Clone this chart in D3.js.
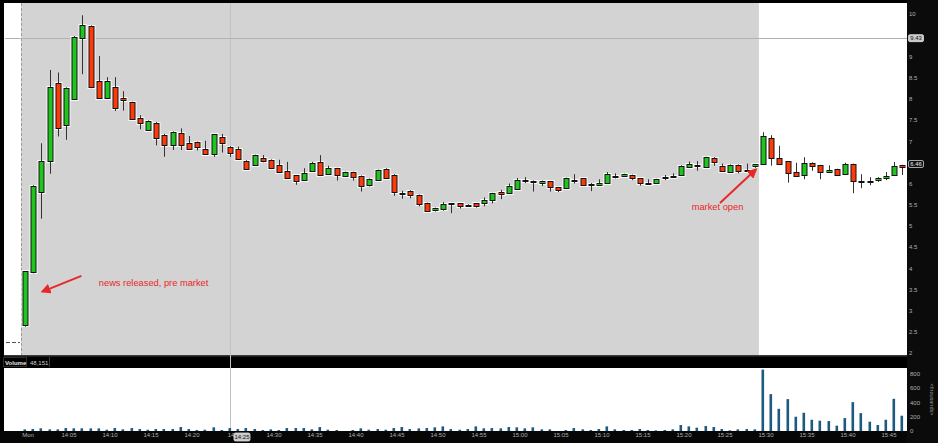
<!DOCTYPE html>
<html>
<head>
<meta charset="utf-8">
<script src="https://cdn.jsdelivr.net/npm/d3@7/dist/d3.min.js"></script>
<style>
  html, body { margin: 0; padding: 0; background: #000; }
  svg { display: block; }
  text { font-family: "Liberation Sans", Arial, sans-serif; }
</style>
</head>
<body>
<svg id="chart" width="938" height="443"></svg>
<script>
// ---------- DATA ----------
const times = [
  "14:00","14:01","14:02","14:03","14:04","14:05","14:06","14:07","14:08","14:09",
  "14:10","14:11","14:12","14:13","14:14","14:15","14:16","14:17","14:18","14:19",
  "14:20","14:21","14:22","14:23","14:24","14:25","14:26","14:27","14:28","14:29",
  "14:30","14:31","14:32","14:33","14:34","14:35","14:36","14:37","14:38","14:39",
  "14:40","14:41","14:42","14:43","14:44","14:45","14:46","14:47","14:48","14:49",
  "14:50","14:51","14:52","14:53","14:54","14:55","14:56","14:57","14:58","14:59",
  "15:00","15:01","15:02","15:03","15:04","15:05","15:06","15:07","15:08","15:09",
  "15:10","15:11","15:12","15:13","15:14","15:15","15:16","15:17","15:18","15:19",
  "15:20","15:21","15:22","15:23","15:24","15:25","15:26","15:27","15:28","15:29",
  "15:30","15:31","15:32","15:33","15:34","15:35","15:36","15:37","15:38","15:39",
  "15:40","15:41","15:42","15:43","15:44","15:45","15:46","15:47"
];
const openP = [
  2.66,3.90,5.79,6.52,8.37,7.37,8.00,9.44,9.72,8.42,
  8.01,8.27,8.02,7.92,7.54,7.26,7.43,7.15,6.92,7.19,
  6.95,6.98,6.82,6.69,7.10,6.87,6.82,6.54,6.44,6.60,
  6.56,6.43,6.29,6.19,6.09,6.30,6.50,6.23,6.36,6.18,
  6.27,6.18,5.96,6.08,6.35,6.21,5.77,5.83,5.73,5.54,
  5.38,5.41,5.53,5.53,5.50,5.53,5.53,5.61,5.80,5.77,
  5.88,6.08,6.06,6.02,6.05,5.91,5.89,6.08,6.12,5.98,
  5.97,6.01,6.18,6.17,6.20,6.12,6.01,6.02,6.12,6.17,
  6.19,6.40,6.42,6.40,6.61,6.42,6.28,6.44,6.29,6.42,
  6.47,7.08,6.60,6.52,6.27,6.20,6.49,6.43,6.27,6.34,
  6.22,6.46,6.04,6.06,6.08,6.14,6.20,6.43
];
const highP = [
  3.93,5.96,6.95,8.68,8.62,8.27,9.48,9.97,9.73,9.01,
  8.51,8.51,8.18,7.93,7.61,7.49,7.45,7.17,7.23,7.30,
  7.12,6.99,7.01,7.17,7.17,6.88,6.87,6.55,6.68,6.67,
  6.57,6.56,6.51,6.20,6.36,6.51,6.67,6.42,6.37,6.28,
  6.28,6.19,6.12,6.33,6.36,6.22,5.83,5.84,5.74,5.55,
  5.43,5.56,5.54,5.54,5.51,5.54,5.67,5.78,5.85,6.00,
  6.13,6.15,6.07,6.07,6.06,5.92,6.14,6.22,6.13,6.01,
  6.10,6.27,6.24,6.23,6.21,6.13,6.10,6.11,6.20,6.24,
  6.43,6.52,6.53,6.63,6.62,6.47,6.45,6.45,6.47,6.46,
  7.21,7.14,6.89,6.53,6.49,6.62,6.50,6.44,6.43,6.35,
  6.49,6.47,6.22,6.15,6.15,6.27,6.51,6.44
];
const lowP = [
  2.62,3.88,5.17,6.23,7.11,7.03,7.98,8.58,8.25,8.00,
  8.00,7.71,7.72,7.50,7.28,7.24,6.90,6.63,6.79,6.79,
  6.80,6.78,6.68,6.63,6.73,6.63,6.56,6.32,6.43,6.50,
  6.34,6.25,6.11,5.97,6.06,6.29,6.20,6.22,6.07,6.17,
  6.07,5.81,5.93,6.07,6.12,5.71,5.64,5.65,5.46,5.33,
  5.34,5.36,5.30,5.41,5.47,5.43,5.46,5.53,5.63,5.76,
  5.87,6.01,5.81,5.94,5.81,5.80,5.88,6.00,5.96,5.82,
  5.96,6.00,6.12,6.16,6.08,5.95,6.00,6.01,6.08,6.16,
  6.18,6.39,6.30,6.39,6.42,6.29,6.27,6.24,6.28,6.37,
  6.46,6.42,6.46,6.02,6.17,6.10,6.30,6.10,6.26,6.19,
  6.21,5.77,5.89,5.96,6.04,6.08,6.19,6.20
];
const closeP = [
  3.93,5.94,6.52,8.27,7.30,8.25,9.46,9.74,8.27,8.01,
  8.42,7.79,7.97,7.52,7.42,7.47,7.08,6.90,7.21,6.92,
  6.82,6.86,6.69,7.16,6.96,6.71,6.57,6.34,6.67,6.52,
  6.36,6.28,6.13,6.07,6.24,6.49,6.21,6.37,6.20,6.27,
  6.15,5.95,6.11,6.32,6.13,5.79,5.77,5.72,5.52,5.34,
  5.42,5.52,5.52,5.48,5.49,5.46,5.62,5.77,5.76,5.93,
  6.08,6.07,6.05,6.05,5.91,5.85,6.13,6.08,5.97,5.96,
  6.02,6.22,6.17,6.22,6.13,6.01,6.00,6.10,6.16,6.17,
  6.42,6.46,6.43,6.62,6.50,6.30,6.44,6.30,6.32,6.45,
  7.11,6.60,6.47,6.24,6.18,6.49,6.42,6.28,6.32,6.20,
  6.46,6.05,6.07,6.06,6.14,6.18,6.42,6.38
];
// volume in thousands
const volumeK = [
  23,28,37,23,23,41,37,37,37,37,
  18,41,23,41,28,18,28,28,28,55,
  28,14,18,51,14,41,28,41,28,14,
  23,14,41,41,41,23,55,18,14,0,
  14,37,18,28,18,41,55,28,37,41,
  51,64,28,18,28,64,37,41,37,55,
  51,37,51,23,23,0,14,41,23,14,
  28,64,23,14,14,28,14,9,14,23,
  83,64,46,69,55,28,9,23,28,23,
  851,511,308,442,198,253,156,143,138,74,
  179,400,248,129,83,156,446,212
];
// 6.5 and 9.5 are covered by the value boxes in the original
const priceTicks = [2,2.5,3,3.5,4,4.5,5,5.5,6,7,7.5,8,8.5,9,10];
const volumeTicks = [0,200,400,600,800];
const timeTicks = ["14:00","14:05","14:10","14:15","14:20","14:25","14:30","14:35","14:40","14:45","14:50","14:55","15:00","15:05","15:10","15:15","15:20","15:25","15:30","15:35","15:40","15:45"];
const timeTickLabels = ["Mon","14:05","14:10","14:15","14:20","14:","14:30","14:35","14:40","14:45","14:50","14:55","15:00","15:05","15:10","15:15","15:20","15:25","15:30","15:35","15:40","15:45"];
const marketOpen = "15:30";
const crossTime = "14:25";
const crossPrice = 9.43;
const lastPrice = 6.46;
const volumeTitle = "Volume";
const volumeValue = "48,151";

// ---------- SETUP ----------
const svg = d3.select("#chart");
const W = 938, H = 443;
const plotL = 4, plotR = 907;
const priceTop = 3, priceBot = 355;
const volTop = 368, volBot = 431;

const x = d3.scalePoint().domain(times).range([25, 902.4]);
const y = d3.scaleLinear().domain([2, 10]).range([353, 14]);
const yv = d3.scaleLinear().domain([0, 800]).range([431, 373.3]);

const GREEN = "#1fc41f", RED = "#fe3a0b";

svg.append("rect").attr("width", W).attr("height", H).attr("fill", "#000");

// price panel
svg.append("rect").attr("x", plotL).attr("y", priceTop).attr("width", plotR - plotL).attr("height", priceBot - priceTop).attr("fill", "#fff");
const shadeL = x(times[0]) - 4;
const shadeR = (x("15:29") + x(marketOpen)) / 2;
svg.append("rect").attr("x", shadeL).attr("y", priceTop).attr("width", shadeR - shadeL).attr("height", priceBot - priceTop).attr("fill", "#d3d3d3");
svg.append("line").attr("x1", Math.round(shadeL) + 0.5).attr("x2", Math.round(shadeL) + 0.5)
  .attr("y1", priceTop).attr("y2", priceBot).attr("stroke", "#9a9a9a").attr("stroke-dasharray", "3,2");
// previous close marker (short dashes)
svg.append("line").attr("x1", 6).attr("x2", 20).attr("y1", 342.5).attr("y2", 342.5)
  .attr("stroke", "#555").attr("stroke-dasharray", "4,2");

// volume header + panel
svg.append("rect").attr("x", plotL).attr("y", 355).attr("width", plotR - plotL).attr("height", 1.5).attr("fill", "#3a3a3a");
svg.append("rect").attr("x", plotL).attr("y", volTop).attr("width", plotR - plotL).attr("height", volBot - volTop).attr("fill", "#fff");
svg.append("rect").attr("x", 3.5).attr("y", 357.5).attr("width", 23).attr("height", 9).attr("fill", "none").attr("stroke", "#2c2c2c");
svg.append("text").attr("x", 5).attr("y", 364.5).attr("fill", "#e8e8e8").attr("font-size", 6).attr("font-weight", "bold").text(volumeTitle);
svg.append("text").attr("x", 30).attr("y", 364.5).attr("fill", "#cfcfcf").attr("font-size", 6).text(volumeValue);
svg.append("line").attr("x1", 49.5).attr("x2", 49.5).attr("y1", 357).attr("y2", 367).attr("stroke", "#3a3a3a");

// crosshair
svg.append("line").attr("x1", Math.round(x(crossTime)) + 0.5).attr("x2", Math.round(x(crossTime)) + 0.5)
  .attr("y1", priceTop).attr("y2", volBot).attr("stroke", "#c2c2c2").attr("stroke-width", 1);
svg.append("line").attr("x1", plotL + 1).attr("x2", plotR).attr("y1", Math.round(y(crossPrice)) + 0.5).attr("y2", Math.round(y(crossPrice)) + 0.5)
  .attr("stroke", "#b3b3b3").attr("stroke-width", 1);

// ---------- CANDLES ----------
const bodyW = 4;
const candles = times.map((t, i) => ({ t, o: openP[i], h: highP[i], l: lowP[i], c: closeP[i] }));
const g = svg.append("g");
const cg = g.selectAll("g.c").data(candles).enter().append("g");
const bodyY = d => Math.round(y(Math.max(d.o, d.c))) + 0.5;
const bodyH = d => Math.max(1, Math.round(y(Math.min(d.o, d.c))) - Math.round(y(Math.max(d.o, d.c))));
const cx = d => Math.round(x(d.t)) + 0.5;
// halo
cg.append("rect")
  .attr("x", d => cx(d) - bodyW / 2 - 0.5).attr("y", bodyY).attr("width", bodyW + 1).attr("height", bodyH)
  .attr("fill", "none").attr("stroke", "rgba(255,255,255,0.85)").attr("stroke-width", 3);
// wick
cg.append("line")
  .attr("x1", cx).attr("x2", cx)
  .attr("y1", d => y(d.h)).attr("y2", d => y(d.l))
  .attr("stroke", "#333").attr("stroke-width", 1);
// body
cg.append("rect")
  .attr("x", d => cx(d) - bodyW / 2 - 0.5).attr("y", bodyY).attr("width", bodyW + 1).attr("height", bodyH)
  .attr("fill", d => d.c >= d.o ? GREEN : RED).attr("stroke", "#111").attr("stroke-width", 1);

// ---------- VOLUME ----------
svg.append("g").selectAll("rect").data(times).enter().append("rect")
  .attr("x", d => Math.round(x(d)) - 1.5)
  .attr("y", (d, i) => yv(volumeK[i]))
  .attr("width", 2.6)
  .attr("height", (d, i) => yv(0) - yv(volumeK[i]))
  .attr("fill", "#1d5a80");

// ---------- ANNOTATIONS ----------
const ANN = "#e8272a";
svg.append("defs").append("marker").attr("id", "ah").attr("viewBox", "0 0 10 10")
  .attr("refX", 8).attr("refY", 5).attr("markerWidth", 5).attr("markerHeight", 5)
  .attr("orient", "auto").append("path").attr("d", "M0,0 L10,5 L0,10 z").attr("fill", ANN);
svg.append("line").attr("x1", x("14:07") - 1).attr("y1", y(3.82)).attr("x2", x("14:02") + 1).attr("y2", y(3.45))
  .attr("stroke", ANN).attr("stroke-width", 2).attr("marker-end", "url(#ah)");
svg.append("text").attr("x", x("14:09") + 0).attr("y", y(3.58)).attr("fill", ANN)
  .attr("font-size", 9.3).attr("font-family", "'Open Sans', sans-serif").text("news released, pre market");
svg.append("line").attr("x1", x("15:25") - 2).attr("y1", y(5.54)).attr("x2", x("15:29") + 1).attr("y2", y(6.33))
  .attr("stroke", ANN).attr("stroke-width", 2).attr("marker-end", "url(#ah)");
svg.append("text").attr("x", x("15:25") - 4.5).attr("y", y(5.38)).attr("fill", ANN).attr("text-anchor", "middle")
  .attr("font-size", 9.3).attr("font-family", "'Open Sans', sans-serif").text("market open");

// ---------- RIGHT AXIS ----------
svg.append("rect").attr("x", plotR).attr("y", 0).attr("width", W - plotR).attr("height", H).attr("fill", "#0b0b0b");
svg.append("rect").attr("x", 0).attr("y", 431).attr("width", plotR).attr("height", 12).attr("fill", "#060606");

const pAxis = svg.append("g").attr("transform", `translate(${plotR + 1},0)`)
  .call(d3.axisRight(y).tickValues(priceTicks).tickSize(0).tickPadding(1).tickFormat(d => String(d)));
pAxis.select(".domain").remove();
pAxis.selectAll("text").attr("fill", "#b0b0b0").attr("font-size", 6).attr("font-family", "'Liberation Sans', Arial, sans-serif");

const vAxis = svg.append("g").attr("transform", `translate(${plotR + 2},0)`)
  .call(d3.axisRight(yv).tickValues(volumeTicks).tickSize(0).tickPadding(1).tickFormat(d => String(d)));
vAxis.select(".domain").remove();
vAxis.selectAll("text").attr("fill", "#b0b0b0").attr("font-size", 6).attr("font-family", "'Liberation Sans', Arial, sans-serif");

svg.append("text").attr("transform", `translate(930,${(volTop + volBot) / 2}) rotate(90)`)
  .attr("text-anchor", "middle").attr("fill", "#9a9a9a").attr("font-size", 5.5).text("<thousands>");

// value boxes
function valueBox(v, fill, stroke, color) {
  const yy = y(v);
  svg.append("rect").attr("x", plotR + 1.5).attr("y", yy - 3.5).attr("width", 15).attr("height", 7)
    .attr("rx", 1.5).attr("fill", fill).attr("stroke", stroke).attr("stroke-width", 0.8);
  svg.append("text").attr("x", plotR + 9).attr("y", yy + 2).attr("text-anchor", "middle")
    .attr("fill", color).attr("font-size", 5.8).text(v.toFixed(2));
}
valueBox(crossPrice, "#c9c9c9", "#e0e0e0", "#111");
valueBox(lastPrice, "#111", "#cfcfcf", "#f0f0f0");

// ---------- BOTTOM TIME AXIS ----------
const tAxis = svg.append("g").attr("transform", `translate(2.5,${volBot})`)
  .call(d3.axisBottom(x).tickValues(timeTicks).tickSize(0).tickPadding(2)
    .tickFormat(d => timeTickLabels[timeTicks.indexOf(d)]));
tAxis.select(".domain").remove();
tAxis.selectAll("text").attr("fill", "#b0b0b0").attr("font-size", 6).attr("font-family", "'Liberation Sans', Arial, sans-serif");
// the partly hidden label sits left of the crosshair box
tAxis.selectAll(".tick").filter(d => d === crossTime).select("text").attr("text-anchor", "end").attr("dx", 3);
// crosshair time box
const ctx = x(crossTime) + 12;
svg.append("rect").attr("x", ctx - 8).attr("y", 433).attr("width", 16).attr("height", 8).attr("rx", 1.5)
  .attr("fill", "#c9c9c9").attr("stroke", "#e0e0e0").attr("stroke-width", 0.8);
svg.append("text").attr("x", ctx).attr("y", 439.2).attr("text-anchor", "middle").attr("fill", "#111").attr("font-size", 6).text(crossTime);
</script>
</body>
</html>
